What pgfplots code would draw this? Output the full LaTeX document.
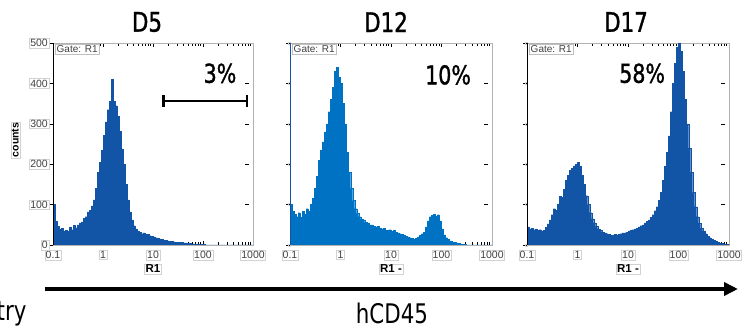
\documentclass[border=0pt]{standalone}
\usepackage{pgfplots}
\pgfplotsset{compat=1.18}
\usetikzlibrary{arrows.meta}
\usepackage{fontspec}
\setmainfont{Liberation Sans}
\newfontfamily\titlefont{DejaVu Sans Condensed}[FakeStretch=0.88]
\newfontfamily\pctfont{DejaVu Sans Condensed}[FakeStretch=0.88, FakeBold=1.2]
\definecolor{fdark}{RGB}{18,84,166}
\definecolor{flight}{RGB}{0,114,196}
\pgfplotsset{flowax/.style={
  scale only axis, height=202pt,
  xmin=-1, xmax=3, ymin=0, ymax=500,
  xtick={-1,0,1,2,3}, xticklabels={0.1,1,10,100,1000},
  minor xtick={-0.699,-0.523,-0.398,-0.301,-0.222,-0.155,-0.097,-0.046,
    0.301,0.477,0.602,0.699,0.778,0.845,0.903,0.954,
    1.301,1.477,1.602,1.699,1.778,1.845,1.903,1.954,
    2.301,2.477,2.602,2.699,2.778,2.845,2.903,2.954},
  ytick={0,100,200,300,400,500},
  tick align=inside, major tick length=4pt, minor tick length=3pt,
  x tick style={black, line width=0.5pt},
  y tick style={black, line width=0.5pt, xshift=-4pt},
  axis line style={gray!60, line width=0.5pt},
  /pgf/number format/assume math mode=true,
  ticklabel style={font=\fontsize{10.5}{11}\selectfont, text=black!75, draw=gray!35, inner sep=1pt, line width=0.4pt},
  xticklabel style={anchor=center, yshift=-10pt},
  xlabel style={font=\bfseries\fontsize{11.5}{12}\selectfont, draw=gray!35, inner sep=1pt, line width=0.4pt, at={(rel axis cs:0.5,0)}, anchor=center, yshift=-24pt},
  axis on top=false,
}}
\begin{document}
\begin{tikzpicture}
\useasboundingbox (0,0) rectangle (749pt,329pt);
% Panel 1
\begin{axis}[flowax, at={(53pt,84pt)}, anchor=south west, width=200pt,
  xlabel={R1}, ylabel={counts},
  ylabel style={font=\bfseries\fontsize{10.5}{11}\selectfont, draw=gray!35, inner sep=1pt, line width=0.4pt, at={(axis description cs:-0.165,0.52)}},
  yticklabel style={xshift=-4pt}]
\addplot[fill=fdark, draw=fdark, line width=0.2pt, const plot mark left] table {
-1.00 100
-0.96 58
-0.92 46
-0.88 40
-0.84 42
-0.80 35
-0.76 37
-0.72 34
-0.68 44
-0.64 38
-0.60 49
-0.56 43
-0.52 50
-0.48 55
-0.44 57
-0.40 66
-0.36 70
-0.32 82
-0.28 86
-0.24 97
-0.20 112
-0.16 140
-0.12 180
-0.08 205
-0.04 235
0.00 272
0.04 305
0.08 335
0.12 355
0.16 410
0.20 355
0.24 345
0.28 318
0.32 282
0.36 238
0.40 200
0.44 150
0.48 112
0.52 82
0.56 62
0.60 48
0.64 40
0.68 34
0.72 31
0.76 28
0.80 30
0.84 26
0.88 27
0.92 23
0.96 22
1.00 20
1.04 18
1.08 17
1.12 15
1.16 14
1.20 12
1.24 12
1.28 10
1.32 9
1.36 9
1.40 8
1.44 7
1.48 7
1.52 6
1.56 6
1.60 5
1.64 5
1.68 4
1.72 4
1.76 3
1.80 3
1.84 3
1.88 2
1.92 2
1.96 2
2.00 1
2.04 0
3.00 0
} \closedcycle;
\draw[black, line width=0.6pt] (rel axis cs:0,0) -- (rel axis cs:0,1);
\draw[black, line width=0.6pt] (rel axis cs:0,0) -- (rel axis cs:1,0);
\node[draw=gray!50, anchor=north west, font=\fontsize{10}{10}\selectfont, text=black!75, inner sep=1.5pt, fill=white] at (rel axis cs:0.01,0.995) {Gate: R1};
\node[font=\pctfont\fontsize{26}{26}\selectfont] at (axis cs:2.34,425) {3\%};
\draw[line width=2.5pt, {Bar[width=12pt,line width=2.5pt]}-{Bar[width=12pt,line width=2.5pt]}] (axis cs:1.18,356) -- (axis cs:2.90,356);
\end{axis}
% Panel 2
\begin{axis}[flowax, at={(290pt,84pt)}, anchor=south west, width=202pt,
  xlabel={R1 -}, yticklabels={}]
\addplot[fill=flight, draw=flight, line width=0.2pt, const plot mark left] table {
-1.00 100
-0.96 84
-0.92 76
-0.88 70
-0.84 80
-0.80 68
-0.76 84
-0.72 76
-0.68 90
-0.64 84
-0.60 100
-0.56 115
-0.52 140
-0.48 170
-0.44 210
-0.40 235
-0.36 255
-0.32 280
-0.28 300
-0.24 330
-0.20 360
-0.16 390
-0.12 430
-0.08 440
-0.04 415
0.00 400
0.04 350
0.08 300
0.12 230
0.16 180
0.20 140
0.24 110
0.28 90
0.32 78
0.36 70
0.40 64
0.44 62
0.48 56
0.52 55
0.56 50
0.60 50
0.64 46
0.68 45
0.72 47
0.76 42
0.80 40
0.84 42
0.88 37
0.92 36
0.96 38
1.00 34
1.04 36
1.08 32
1.12 30
1.16 28
1.20 27
1.24 24
1.28 22
1.32 20
1.36 18
1.40 17
1.44 15
1.48 17
1.52 20
1.56 24
1.60 28
1.64 32
1.68 45
1.72 60
1.76 70
1.80 74
1.84 76
1.88 72
1.92 75
1.96 60
2.00 40
2.04 25
2.08 18
2.12 14
2.16 10
2.20 8
2.24 6
2.28 5
2.32 4
2.36 3
2.40 2
2.44 1
2.48 0
3.00 0
} \closedcycle;
\draw[fdark, line width=0.6pt] (rel axis cs:0,0) -- (rel axis cs:0,1);
\draw[black, line width=0.6pt] (rel axis cs:0,0) -- (rel axis cs:1,0);
\node[draw=gray!50, anchor=north west, font=\fontsize{10}{10}\selectfont, text=black!75, inner sep=1.5pt, fill=white] at (rel axis cs:0.01,0.995) {Gate: R1};
\node[font=\pctfont\fontsize{26}{26}\selectfont] at (axis cs:2.13,421) {10\%};
\end{axis}
% Panel 3
\begin{axis}[flowax, at={(527pt,84pt)}, anchor=south west, width=202pt,
  xlabel={R1 -}, yticklabels={}]
\addplot[fill=fdark, draw=fdark, line width=0.2pt, const plot mark left] table {
-1.00 45
-0.96 40
-0.92 42
-0.88 38
-0.84 40
-0.80 36
-0.76 38
-0.72 35
-0.68 37
-0.64 44
-0.60 52
-0.56 62
-0.52 75
-0.48 90
-0.44 86
-0.40 102
-0.36 120
-0.32 118
-0.28 138
-0.24 160
-0.20 172
-0.16 185
-0.12 190
-0.08 196
-0.04 200
0.00 205
0.04 195
0.08 172
0.12 150
0.16 122
0.20 100
0.24 80
0.28 65
0.32 55
0.36 46
0.40 40
0.44 37
0.48 32
0.52 30
0.56 28
0.60 27
0.64 25
0.68 24
0.72 26
0.76 25
0.80 27
0.84 28
0.88 30
0.92 30
0.96 32
1.00 35
1.04 36
1.08 38
1.12 40
1.16 42
1.20 45
1.24 48
1.28 50
1.32 55
1.36 58
1.40 62
1.44 68
1.48 75
1.52 85
1.56 95
1.60 110
1.64 130
1.68 160
1.72 195
1.76 230
1.80 270
1.84 330
1.88 400
1.92 450
1.96 490
2.00 500
2.04 480
2.08 430
2.12 360
2.16 300
2.20 240
2.24 180
2.28 130
2.32 95
2.36 70
2.40 55
2.44 42
2.48 35
2.52 28
2.56 22
2.60 18
2.64 14
2.68 11
2.72 9
2.76 7
2.80 5
2.84 4
2.88 3
2.92 2
2.96 1
3.00 0
} \closedcycle;
\draw[black, line width=0.6pt] (rel axis cs:0,0) -- (rel axis cs:0,1);
\draw[black, line width=0.6pt] (rel axis cs:0,0) -- (rel axis cs:1,0);
\node[draw=gray!50, anchor=north west, font=\fontsize{10}{10}\selectfont, text=black!75, inner sep=1.5pt, fill=white] at (rel axis cs:0.01,0.995) {Gate: R1};
\node[font=\pctfont\fontsize{26}{26}\selectfont] at (axis cs:1.28,425) {58\%};
\end{axis}
% Titles
\node[font=\pctfont\fontsize{27}{27}\selectfont] at (147pt,307pt) {D5};
\node[font=\pctfont\fontsize{27}{27}\selectfont] at (386pt,307pt) {D12};
\node[font=\pctfont\fontsize{27}{27}\selectfont] at (626pt,307pt) {D17};
% Arrow and labels
\draw[line width=4pt, -{Triangle[length=14pt,width=13pt]}] (45pt,40pt) -- (738pt,40pt);
\node[font=\titlefont\fontsize{27}{27}\selectfont] at (392pt,16pt) {hCD45};
\node[font=\titlefont\fontsize{27}{27}\selectfont, anchor=east] at (30pt,16pt) {Flow cytometry};
\end{tikzpicture}
\end{document}
